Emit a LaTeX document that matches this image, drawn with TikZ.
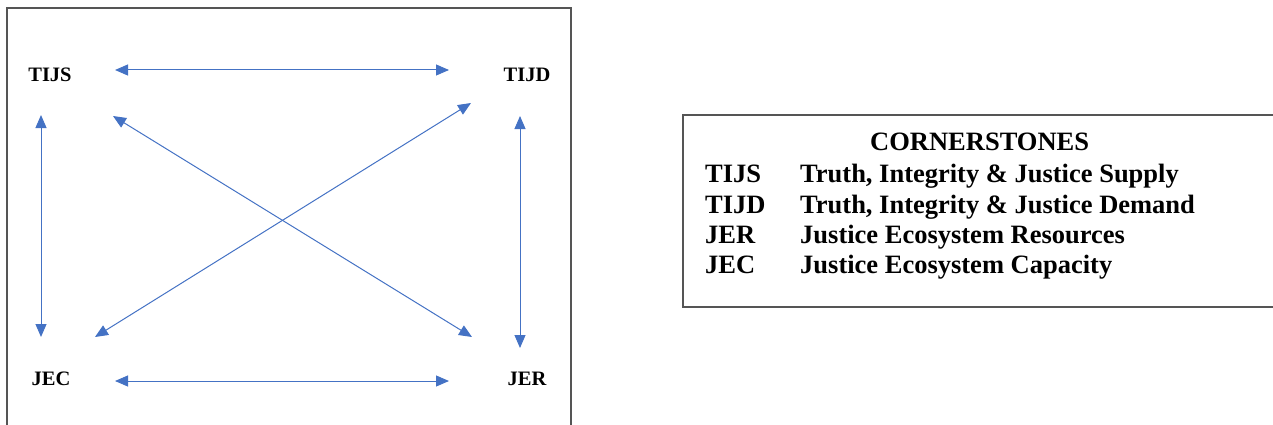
\documentclass[tikz,border=0pt]{standalone}
\usepackage{fontspec}
\setmainfont{Liberation Serif}
\usetikzlibrary{arrows.meta}
\definecolor{linkblue}{HTML}{4472C4}
\definecolor{frame}{HTML}{555555}
\tikzset{
  corner/.style={font=\bfseries\fontsize{20.5}{23}\selectfont, inner sep=0pt, anchor=base},
  legend/.style={font=\bfseries\fontsize{26.5}{30}\selectfont, inner sep=0pt, anchor=base west},
  link/.style={draw=linkblue, line width=1pt, {Triangle[width=11pt,length=13pt]}-{Triangle[width=11pt,length=13pt]}},
  panel/.style={draw=frame, line width=1.4pt}
}
\begin{document}
\begin{tikzpicture}[x=1pt,y=-1pt]
\useasboundingbox (0,0) rectangle (1273,425);
% framed panel of the four cornerstones
\draw[panel] (7,440) -- (7,8) -- (571,8) -- (571,440);

\node[corner] (tijs) at (50,82) {TIJS};
\node[corner] (tijd) at (527,82) {TIJD};
\node[corner] (jec)  at (51,385) {JEC};
\node[corner] (jer)  at (527,385) {JER};

% arrow end points around each label
\coordinate (tijs-r) at (115,70);
\coordinate (tijd-l) at (449,70);
\coordinate (jec-r)  at (115,381);
\coordinate (jer-l)  at (449,381);
\coordinate (tijs-d) at (41,115);
\coordinate (jec-u)  at (41,337);
\coordinate (tijd-d) at (520,116);
\coordinate (jer-u)  at (520,348);
\coordinate (tijs-x) at (113,116);
\coordinate (jer-x)  at (472,337);
\coordinate (jec-x)  at (95,337);
\coordinate (tijd-x) at (471,103);

\draw[link] (tijs-r) -- (tijd-l);
\draw[link] (jec-r) -- (jer-l);
\draw[link] (tijs-d) -- (jec-u);
\draw[link] (tijd-d) -- (jer-u);
\draw[link] (tijs-x) -- (jer-x);
\draw[link] (jec-x) -- (tijd-x);

% legend
\draw[panel] (1290,115) -- (683,115) -- (683,307) -- (1290,307);
\node[legend] (title) at (870,150) {CORNERSTONES};
\node[legend] (k1) at (705,182) {TIJS};
\node[legend] (v1) at (800,182) {Truth, Integrity \& Justice Supply};
\node[legend] (k2) at (705,213) {TIJD};
\node[legend] (v2) at (800,213) {Truth, Integrity \& Justice Demand};
\node[legend] (k3) at (705,243) {JER};
\node[legend] (v3) at (800,243) {Justice Ecosystem Resources};
\node[legend] (k4) at (705,273) {JEC};
\node[legend] (v4) at (800,273) {Justice Ecosystem Capacity};
\end{tikzpicture}
\end{document}
